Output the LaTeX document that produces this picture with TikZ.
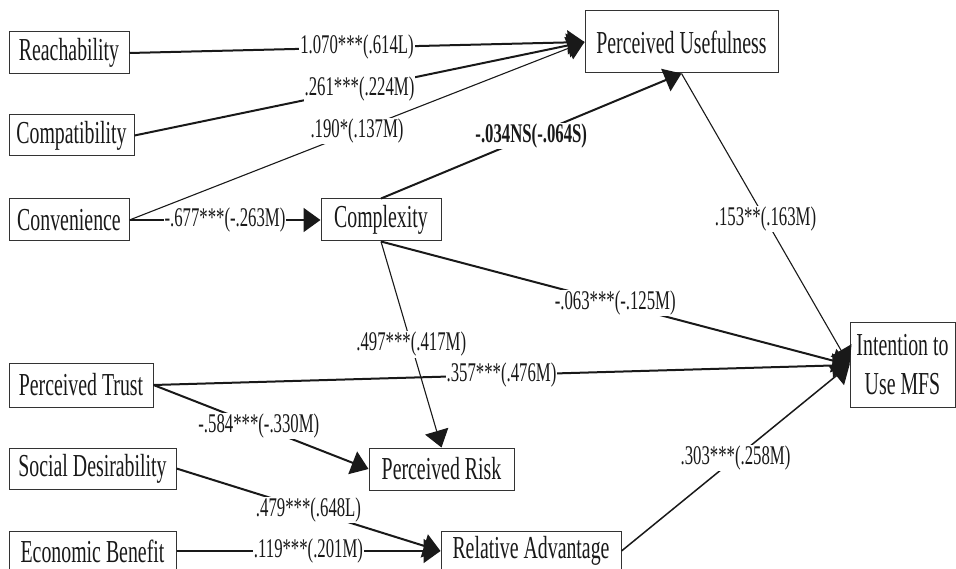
\documentclass[tikz,border=0pt]{standalone}
\usepackage{fontspec}
\setmainfont{Liberation Serif}[FakeStretch=0.62]
\usetikzlibrary{arrows.meta}
\begin{document}
\begin{tikzpicture}[x=1pt,y=-1pt,
  box/.style={draw=black!80, line width=1pt, inner sep=0pt, text=black!90,
    font=\fontsize{32}{39}\selectfont, align=center},
  lbl/.style={fill=white, inner sep=1pt, text=black!90, font=\fontsize{27}{30}\selectfont},
  tip/.style={-{Triangle[length=17pt,width=24pt]}},
  thk/.style={tip, line width=2pt, draw=black!90},
  thn/.style={tip, line width=1.1pt, draw=black!90},
  med/.style={tip, line width=1.5pt, draw=black!90},
]
\useasboundingbox (0,0) rectangle (956,569);
\clip (0,0) rectangle (956,569);
% nodes
\node[box, minimum width=120pt, minimum height=42pt] (reach) at (69,53) {Reachability};
\node[box, minimum width=125pt, minimum height=41pt] (compat) at (71.5,135.5) {Compatibility};
\node[box, minimum width=120pt, minimum height=42pt] (conv) at (69,220) {Convenience};
\node[box, minimum width=120pt, minimum height=42pt] (cplx) at (381,220) {Complexity};
\node[box, minimum width=193pt, minimum height=62pt] (pu) at (681.5,42) {Perceived Usefulness};
\node[box, minimum width=105pt, minimum height=84pt] (intent) at (902.5,365) {Intention to\\Use MFS};
\node[box, minimum width=144pt, minimum height=44pt] (trust) at (81,385) {Perceived Trust};
\node[box, minimum width=145pt, minimum height=42pt] (risk) at (441.5,469) {Perceived Risk};
\node[box, minimum width=167pt, minimum height=41pt] (social) at (92.5,468.5) {Social Desirability};
\node[box, minimum width=167pt, minimum height=40pt] (econ) at (92.5,551) {Economic Benefit};
\node[box, minimum width=180pt, minimum height=40pt] (ra) at (531,551) {Relative Advantage};
% connectors
\draw[thk] (reach.east) -- node[lbl] {1.070***(.614L)} (pu.west);
\draw[thk] (compat.east) -- node[lbl] {.261***(.224M)} (pu.west);
\draw[thn] (conv.east) -- node[lbl] {.190*(.137M)} (pu.west);
\draw[thk] (conv.east) -- node[lbl] {-.677***(-.263M)} (cplx.west);
\draw[thk] (cplx.north) -- node[lbl, font=\fontsize{27}{30}\selectfont\bfseries] {-.034NS(-.064S)} (pu.south);
\draw[thk] (cplx.south) -- node[lbl] {-.063***(-.125M)} (intent.west);
\draw[thn] (pu.south) -- node[lbl] {.153**(.163M)} (intent.west);
\draw[thn] (cplx.south) -- node[lbl] {.497***(.417M)} (risk.north);
\draw[thk] (trust.east) -- node[lbl] {.357***(.476M)} (intent.west);
\draw[thk] (trust.east) -- node[lbl, pos=0.49] {-.584***(-.330M)} (risk.west);
\draw[thk] (social.east) -- node[lbl] {.479***(.648L)} (ra.west);
\draw[thk] (econ.east) -- node[lbl] {.119***(.201M)} (ra.west);
\draw[med] (ra.east) -- node[lbl] {.303***(.258M)} (intent.west);
\end{tikzpicture}
\end{document}
